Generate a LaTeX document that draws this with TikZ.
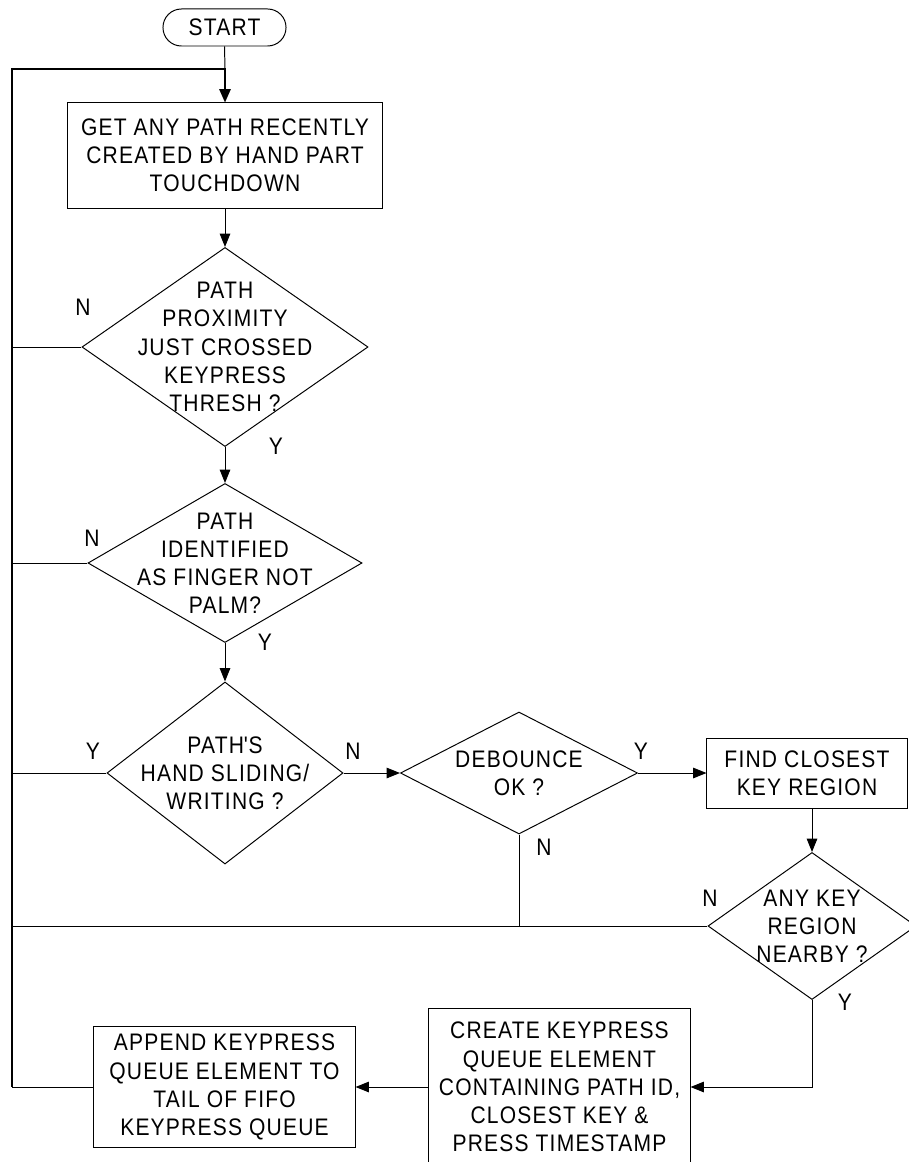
\documentclass[tikz,border=0pt]{standalone}
\usepackage{fontspec}
\setmainfont{Liberation Sans}[FakeStretch=0.88,LetterSpace=5]
\usetikzlibrary{arrows.meta,shapes.geometric}

\begin{document}
\begin{tikzpicture}[x=0.025cm,y=-0.025cm,
    every node/.style={font=\fontsize{17}{20}\selectfont},
    procbox/.style={draw,line width=0.7pt,align=center,inner sep=0pt},
    decbox/.style={draw,diamond,line width=0.7pt,inner sep=0pt},
    flow/.style={line width=0.7pt},
    arr/.style={flow,-{Triangle[length=9.5pt,width=7.5pt]}},
    loopline/.style={line width=1.4pt,-{Triangle[length=9.5pt,width=8pt]}}]
  \useasboundingbox (0,0) rectangle (908,1162);
  % main column
  \node[procbox,rounded corners=0.46cm,minimum width=3.075cm,minimum height=0.925cm]
    (start) at (224.5,27.5) {START};
  \node[procbox,minimum width=7.85cm,minimum height=2.625cm]
    (b1) at (225,155.5) {GET ANY PATH RECENTLY\\CREATED BY HAND PART\\TOUCHDOWN};
  \node[decbox,minimum width=7.15cm,minimum height=4.975cm,
    label={[align=center]center:{PATH\\PROXIMITY\\JUST CROSSED\\KEYPRESS\\THRESH ?}}]
    (d1) at (225,347) {};
  \node[decbox,minimum width=6.85cm,minimum height=3.975cm,
    label={[align=center]center:{PATH\\IDENTIFIED\\AS FINGER NOT\\PALM?}}]
    (d2) at (225,563) {};
  \node[decbox,minimum width=5.9cm,minimum height=4.55cm,
    label={[align=center]center:{PATH\textquotesingle S\\HAND SLIDING/\\WRITING ?}}]
    (d3) at (225,773) {};
  % right branch
  \node[decbox,minimum width=5.925cm,minimum height=3.05cm,
    label={[align=center]center:{DEBOUNCE\\OK ?}}]
    (d4) at (519,773) {};
  \node[procbox,minimum width=5cm,minimum height=1.75cm]
    (b2) at (807,773) {FIND CLOSEST\\KEY REGION};
  \node[decbox,minimum width=5.2cm,minimum height=3.675cm,
    label={[align=center]center:{ANY KEY\\REGION\\NEARBY ?}}]
    (d5) at (812,926) {};
  \node[procbox,minimum width=6.525cm,minimum height=3.9cm]
    (b3) at (559.5,1087) {CREATE KEYPRESS\\QUEUE ELEMENT\\CONTAINING PATH ID,\\CLOSEST KEY \&\\PRESS TIMESTAMP};
  \node[procbox,minimum width=6.525cm,minimum height=3.025cm]
    (b4) at (224.5,1087) {APPEND KEYPRESS\\QUEUE ELEMENT TO\\TAIL OF FIFO\\KEYPRESS QUEUE};
  % Y/N marks
  \node (n1) at (83,307) {N};
  \node (y1) at (276,446) {Y};
  \node (n2) at (92,538) {N};
  \node (y2) at (265,642) {Y};
  \node (y3) at (93,751) {Y};
  \node (n3) at (353,751) {N};
  \node (y4) at (641,751) {Y};
  \node (n4) at (544,847) {N};
  \node (n5) at (710,898) {N};
  \node (y5) at (845,1002) {Y};
  % loop back line
  \coordinate (lpt) at (12,69);
  \coordinate (lpb) at (12,1087);
  \draw[flow] (start.south) -- (b1.north |- lpt);
  \draw[loopline] (lpb) -- (lpt) -| (b1.north);
  % connectors
  \draw[arr] (b1.south) -- (d1.north);
  \draw[arr] (d1.south) -- (d2.north);
  \draw[arr] (d2.south) -- (d3.north);
  \draw[arr] (d3.east) -- (d4.west);
  \draw[arr] (d4.east) -- (b2.west);
  \draw[arr] (d5.north |- b2.south) -- (d5.north);
  \draw[arr] (d5.south) |- (b3.east);
  \draw[arr] (b3.west) -- (b4.east);
  \draw[flow] (d1.west) -- (d1.west -| lpt);
  \draw[flow] (d2.west) -- (d2.west -| lpt);
  \draw[flow] (d3.west) -- (d3.west -| lpt);
  \draw[flow] (d5.west) -- (d5.west -| lpt);
  \draw[flow] (d4.south) -- (d4.south |- d5.west);
  \draw[flow] (b4.west) -- (lpb);
\end{tikzpicture}
\end{document}
